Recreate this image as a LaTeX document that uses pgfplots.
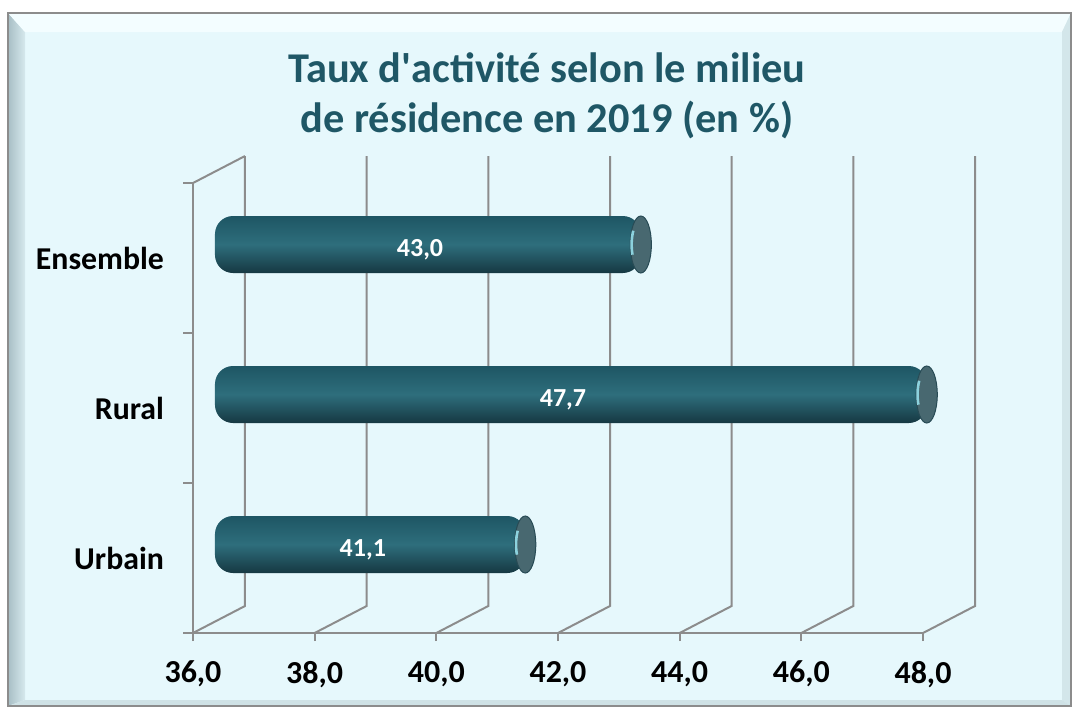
\documentclass[border=0pt]{standalone}
\usepackage{pgfplots}
\pgfplotsset{compat=1.18}
\usepackage{pgfplotstable}
\usepackage{fontspec}
\setmainfont{Carlito}
\definecolor{bgc}{RGB}{230,248,252}
\definecolor{gridc}{RGB}{140,140,140}
\definecolor{titlec}{RGB}{31,87,102}
\definecolor{barTop}{RGB}{30,86,100}
\definecolor{barMid}{RGB}{46,110,124}
\definecolor{barBot}{RGB}{22,56,66}
\definecolor{capc}{RGB}{72,104,112}
\definecolor{capEdge}{RGB}{40,75,85}
\definecolor{hlc}{RGB}{140,210,222}
\definecolor{bevL1}{RGB}{168,190,197}
\definecolor{bevL2}{RGB}{214,233,237}
\definecolor{bevT}{RGB}{243,253,255}
\definecolor{bevR}{RGB}{211,230,234}
\definecolor{bevB}{RGB}{207,226,230}

\pgfdeclareplotmark{caphl}{%
  \pgfsetlinewidth{1.3pt}%
  \pgfsetstrokecolor{hlc}%
  \pgfpathmoveto{\pgfpointpolar{145}{4.6pt and 12pt}}%
  \pgfpatharc{145}{205}{4.6pt and 12pt}%
  \pgfusepath{stroke}%
}

\pgfplotstableread{
y   v
2.5 43.0
1.5 47.7
0.5 41.1
}\bars
\pgfplotstableread{
x     y   v
39.37 2.5 43.0
41.72 1.5 47.7
38.43 0.5 41.1
}\labs

\begin{document}
\begin{tikzpicture}
\begin{scope}[x=0.5pt,y=-0.5pt]
  \path (0,0) rectangle (1072,708);
  \fill[bgc] (8,13) rectangle (1071,706);
  \shade[left color=bevL1, right color=bevL2] (8,13) -- (25,32) -- (25,700) -- (8,706) -- cycle;
  \fill[bevT] (8,13) -- (1071,13) -- (1062,32) -- (25,32) -- cycle;
  \fill[bevR] (1071,13) -- (1071,706) -- (1062,700) -- (1062,32) -- cycle;
  \fill[bevB] (8,706) -- (1071,706) -- (1062,700) -- (25,700) -- cycle;
  \draw[gridc, line width=0.6pt] (8,13) rectangle (1071,706);
  \node[anchor=base, text=titlec, font=\bfseries\fontsize{21.2}{25}\selectfont] at (547,82) {Taux d\textquotesingle activité selon le milieu};
  \node[anchor=base, text=titlec, font=\bfseries\fontsize{21.2}{25}\selectfont] at (547,132) {de résidence en 2019 (en \%)};
\end{scope}
\begin{axis}[
  at={(96.5pt,-316.5pt)}, anchor=south west,
  scale only axis, width=365pt, height=225pt,
  xmin=36, xmax=48, ymin=0, ymax=3,
  clip=false,
  axis x line*=bottom, axis y line*=left,
  axis line style={draw=gridc, line width=1pt, -},
  xtick={36,38,40,42,44,46,48},
  tick align=outside,
  major tick length=4pt,
  xtick style={draw=gridc, line width=1pt},
  ytick style={draw=none},
  ytick={0.5,1.5,2.5},
  yticklabels={Urbain,Rural,Ensemble},
  /pgf/number format/assume math mode=true,
  xticklabel style={font=\bfseries\fontsize{16}{19}\selectfont, yshift=-6.5pt,
    /pgf/number format/.cd, fixed, fixed zerofill, precision=1, use comma},
  yticklabel style={font=\bfseries\fontsize{15.9}{19}\selectfont, xshift=-7pt},
]
\pgfplotsinvokeforeach{36,38,40,42,44,46,48}{
  \draw[gridc, line width=1pt] (axis cs:#1,0) -- ([shift={(26pt,13.5pt)}]axis cs:#1,0) -- ([shift={(26pt,13.5pt)}]axis cs:#1,3);
}
\draw[gridc, line width=1pt] (axis cs:36,3) -- ([shift={(26pt,13.5pt)}]axis cs:36,3);
\pgfplotsinvokeforeach{0,1,2,3}{
  \draw[gridc, line width=1pt] (axis cs:36,#1) -- ([xshift=-5pt]axis cs:36,#1);
}
% bars
\addplot[draw=none, top color=barTop, bottom color=barBot, middle color=barMid, rounded corners=9pt, xshift=11pt, yshift=6.75pt]
  coordinates {(36,2.31) (43.0,2.31) (43.0,2.69) (36,2.69)} -- cycle;
\addplot[draw=none, top color=barTop, bottom color=barBot, middle color=barMid, rounded corners=9pt, xshift=11pt, yshift=6.75pt]
  coordinates {(36,1.31) (47.7,1.31) (47.7,1.69) (36,1.69)} -- cycle;
\addplot[draw=none, top color=barTop, bottom color=barBot, middle color=barMid, rounded corners=9pt, xshift=11pt, yshift=6.75pt]
  coordinates {(36,0.31) (41.1,0.31) (41.1,0.69) (36,0.69)} -- cycle;
% end caps
\addplot[only marks, mark=*, mark size=14.25pt, mark options={xscale=0.37, fill=capc, draw=capEdge, line width=0.5pt}, xshift=11pt, yshift=6.75pt]
  table[x=v, y=y] {\bars};
\addplot[only marks, mark=caphl, xshift=11pt, yshift=6.75pt]
  table[x=v, y=y] {\bars};
% value labels
\addplot[draw=none, mark=none, xshift=11pt, yshift=6.75pt, point meta=explicit,
  nodes near coords={\pgfmathprintnumber[fixed,fixed zerofill,precision=1,use comma,assume math mode=true]{\pgfplotspointmeta}},
  every node near coord/.append style={anchor=center, text=white, font=\bfseries\fontsize{13}{15}\selectfont, yshift=-2.5pt}]
  table[x=x, y=y, meta=v] {\labs};
\end{axis}
\end{tikzpicture}
\end{document}
